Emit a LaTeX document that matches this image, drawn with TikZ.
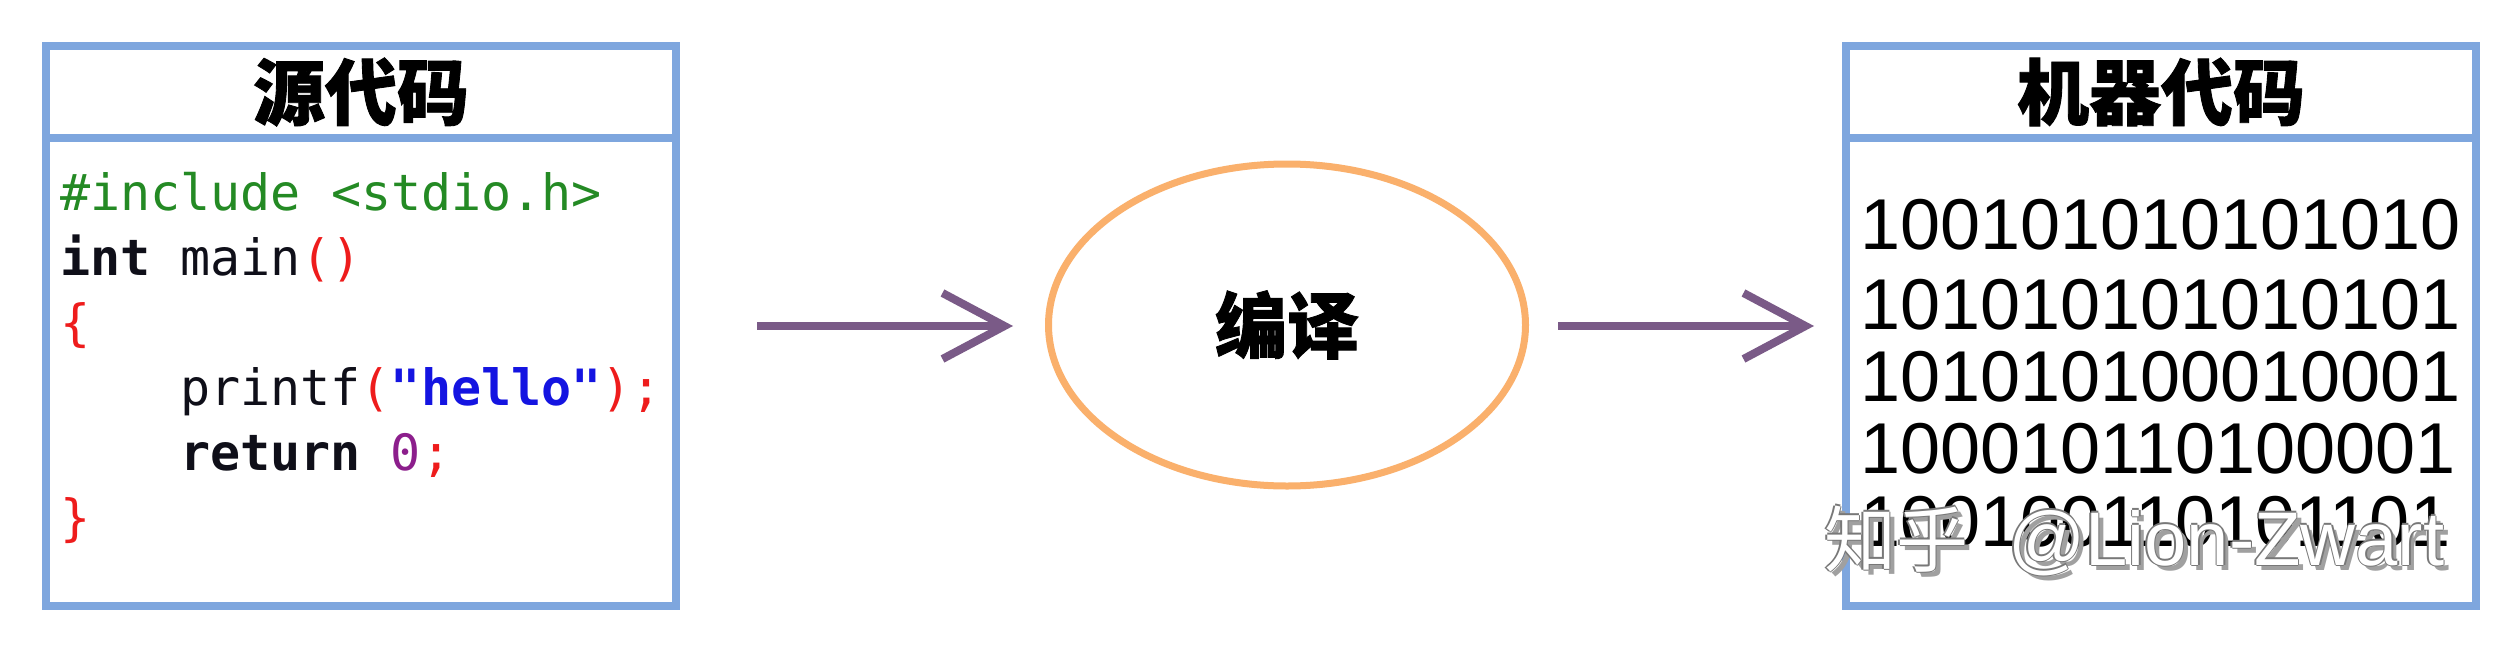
\documentclass[tikz,border=0pt]{standalone}
\usepackage{fontspec}
\setmainfont{Liberation Sans}
\newfontfamily\cjk{Noto Sans CJK SC}
\newfontfamily\cjkheavy{Noto Sans CJK SC}[BoldFeatures={FakeBold=1.2}]
\newfontfamily\code{DejaVu Sans Mono}
\newfontfamily\arial{Liberation Sans}
\usetikzlibrary{arrows.meta,shapes.geometric}
\definecolor{boxblue}{RGB}{126,166,222}
\definecolor{arrowpurple}{RGB}{122,90,135}
\definecolor{ellorange}{RGB}{250,176,108}
\definecolor{codegreen}{RGB}{36,138,36}
\definecolor{codered}{RGB}{238,28,28}
\definecolor{codeblue}{RGB}{20,20,225}
\definecolor{codepurple}{RGB}{140,30,140}
\definecolor{codeblack}{RGB}{15,15,25}
\definecolor{wmgray}{RGB}{160,160,160}
\definecolor{wmedge}{RGB}{120,120,120}
\newcommand{\cred}[1]{\textcolor{codered}{#1}}
\begin{document}
\begin{tikzpicture}[x=1pt,y=-1pt,
  boxpart/.style={draw=boxblue, line width=8pt, rectangle, inner sep=0pt, minimum width=630pt},
  headtext/.style={font=\cjkheavy\bfseries\fontsize{72}{80}\selectfont},
  codeline/.style={anchor=base west, inner sep=0pt, text=codeblack, font=\code\fontsize{50}{60}\selectfont},
  binline/.style={anchor=base west, inner sep=0pt, font=\arial\fontsize{72}{80}\selectfont},
  flow/.style={draw=arrowpurple, line width=8pt, -{Straight Barb[sharp, length=62pt, width=66pt]}},
  wmcjk/.style={anchor=base west, inner sep=0pt, font=\cjk\fontsize{72}{80}\selectfont},
  wmlat/.style={anchor=base west, inner sep=0pt, font=\arial\fontsize{76}{80}\selectfont}
]
\useasboundingbox[fill=white] (0,0) rectangle (2520,648);

% source code box
\node[boxpart, minimum height=92pt, headtext] (srchead) at (361,92) {源代码};
\node[boxpart, minimum height=468pt] (srcbody) at (361,372) {};
\node[codeline, text=codegreen] (c1) at (60,210) {\#include <stdio.h>};
\node[codeline] (c2) at (60,275) {\textbf{int} main\cred{()}};
\node[codeline] (c3) at (60,340) {\cred{\{}};
\node[codeline] (c4) at (180,405) {printf\cred{(}\textcolor{codeblue}{\textbf{"hello"}}\cred{);}};
\node[codeline] (c5) at (180,470) {\textbf{return} \textcolor{codepurple}{0}\cred{;}};
\node[codeline] (c6) at (60,535) {\cred{\}}};

% machine code box
\node[boxpart, minimum height=92pt, headtext] (mchead) at (2161,92) {机器代码};
\node[boxpart, minimum height=468pt] (mcbody) at (2161,372) {};
\node[binline] (b1) at (1860,249) {100101010101010};
\node[binline] (b2) at (1860,329) {101010101010101};
\node[binline] (b3) at (1860,401) {101010100010001};
\node[binline] (b4) at (1860,473) {100010110100001};
\node[binline] (b5) at (1860,546) {100100110101101};

% compile ellipse
\node[ellipse, draw=ellorange, line width=7pt, inner sep=0pt,
      minimum width=477pt, minimum height=322pt, headtext] (compile) at (1287,325) {编译};

% arrows
\coordinate (a1s) at (757,326);
\coordinate (a1e) at (1013,326);
\coordinate (a2s) at (1558,326);
\coordinate (a2e) at (1814,326);
\draw[flow] (a1s) -- (a1e);
\draw[flow] (a2s) -- (a2e);

% watermark: shadow, thin outline, white face
\node[wmcjk, text=wmgray] (wm1s) at (1829,571) {知乎};
\node[wmlat, text=wmgray] (wm2s) at (2013,570) {@Lion-Zwart};
\foreach \dx/\dy [count=\k] in {-1.5/0, 1.5/0, 0/-1.5, 0/1.5} {
  \node[wmcjk, text=wmedge] (wm1o\k) at (1824+\dx,566+\dy) {知乎};
  \node[wmlat, text=wmedge] (wm2o\k) at (2008+\dx,565+\dy) {@Lion-Zwart};
}
\node[wmcjk, text=white] (wm1) at (1824,566) {知乎};
\node[wmlat, text=white] (wm2) at (2008,565) {@Lion-Zwart};
\end{tikzpicture}
\end{document}
